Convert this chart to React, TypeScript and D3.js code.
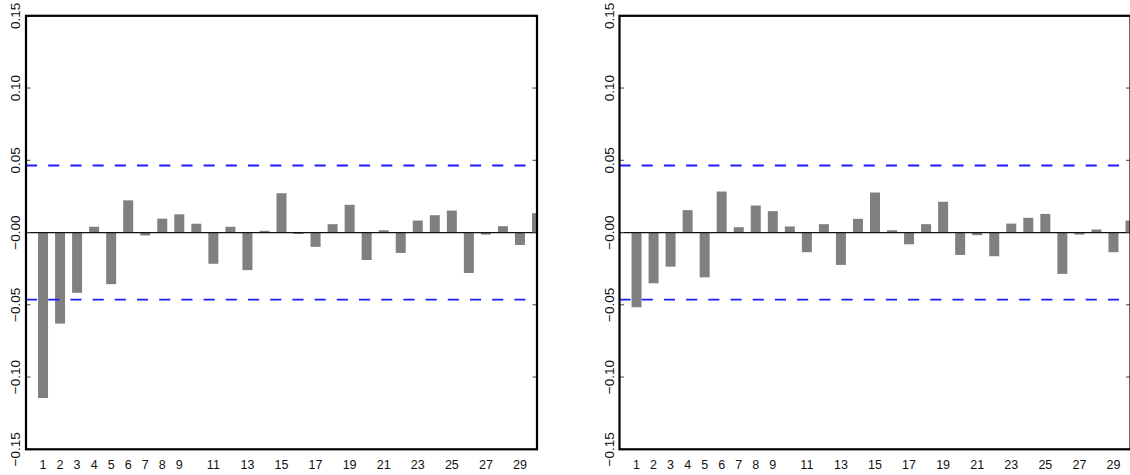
import * as d3 from "d3";

// Two ACF-style bar panels, lags 1..30, with ±critical dashed bands.

const LAGS = [1, 2, 3, 4, 5, 6, 7, 8, 9, 10, 11, 12, 13, 14, 15, 16, 17, 18, 19, 20, 21, 22, 23, 24, 25, 26, 27, 28, 29, 30];

const leftValues = [
  -0.1145, -0.063, -0.0417, 0.004, -0.0357, 0.0223, -0.002, 0.0096, 0.0126, 0.0061,
  -0.0216, 0.004, -0.026, 0.0012, 0.0272, -0.001, -0.0099, 0.0058, 0.0192, -0.019,
  0.0016, -0.0141, 0.0083, 0.012, 0.0152, -0.028, -0.0014, 0.0044, -0.0086, 0.0134,
];

const rightValues = [
  -0.0517, -0.0351, -0.0236, 0.0155, -0.031, 0.0284, 0.0037, 0.0187, 0.0148, 0.0042,
  -0.0136, 0.0058, -0.0224, 0.0095, 0.0277, 0.0016, -0.0081, 0.0058, 0.0213, -0.0155,
  -0.0018, -0.0164, 0.0062, 0.0102, 0.0129, -0.0286, -0.0014, 0.0021, -0.0136, 0.0083,
];

const CRIT = 0.0464;

const xTickLabels = [1, 2, 3, 4, 5, 6, 7, 8, 9, 11, 13, 15, 17, 19, 21, 23, 25, 27, 29];
const yTicks = [0.15, 0.1, 0.05, 0, -0.05, -0.1, -0.15];
const yTickLabels = ["0.15", "0.10", "0.05", "\u22120.00", "\u22120.05", "\u22120.10", "\u22120.15"];

const W = 1130;
const H = 475;
const TOP = 15.8;
const BOTTOM = 449.3;
const PANEL_W = 511;

function Panel({ id, left, values }: { id: string; left: number; values: number[] }) {
  const x = d3.scaleLinear().domain([0, 30]).range([left, left + PANEL_W]);
  const y = d3.scaleLinear().domain([-0.15, 0.15]).range([BOTTOM, TOP]);
  const barW = x(0.587) - x(0);
  const font = "'Liberation Sans', Arial, sans-serif";

  return (
    <g>
      <defs>
        <clipPath id={id}>
          <rect x={x(0)} y={TOP} width={PANEL_W} height={BOTTOM - TOP} />
        </clipPath>
      </defs>

      <g clipPath={`url(#${id})`}>
        {values.map((v, i) => (
          <rect
            key={i}
            x={x(LAGS[i]) - barW / 2}
            y={Math.min(y(v), y(0))}
            width={barW}
            height={Math.abs(y(v) - y(0))}
            fill="#808080"
          />
        ))}
        <line x1={x(0)} x2={x(30)} y1={y(0)} y2={y(0)} stroke="#111" strokeWidth={1.3} />
        {[CRIT, -CRIT].map((c) => (
          <line
            key={c}
            x1={x(0)}
            x2={x(30)}
            y1={y(c)}
            y2={y(c)}
            stroke="#1c1cff"
            strokeWidth={1.8}
            strokeDasharray="11.1 11.1"
          />
        ))}
      </g>

      {/* inward ticks on both vertical sides */}
      {yTicks.map((t) => (
        <g key={t}>
          <line x1={x(0)} x2={x(0) + 4.5} y1={y(t)} y2={y(t)} stroke="#444" strokeWidth={1} />
          <line x1={x(30) - 4.5} x2={x(30)} y1={y(t)} y2={y(t)} stroke="#444" strokeWidth={1} />
        </g>
      ))}

      <rect
        x={x(0)}
        y={TOP}
        width={PANEL_W}
        height={BOTTOM - TOP}
        fill="none"
        stroke="#000"
        strokeWidth={2.2}
      />

      {yTicks.map((t, i) => (
        <text
          key={t}
          transform={`translate(${x(0) - 6},${y(t)}) rotate(-90)`}
          textAnchor="middle"
          fontFamily={font}
          fontSize={13.5}
          fill="#111"
        >
          {yTickLabels[i]}
        </text>
      ))}

      {xTickLabels.map((l) => (
        <text
          key={l}
          x={x(l)}
          y={468.5}
          textAnchor="middle"
          fontFamily={font}
          fontSize={12.5}
          fill="#111"
        >
          {l}
        </text>
      ))}
    </g>
  );
}

export default function App() {
  return (
    <svg
      width={W}
      height={H}
      viewBox={`0 0 ${W} ${H}`}
      style={{ position: "absolute", left: 0, top: 0, background: "#fff" }}
    >
      <rect width={W} height={H} fill="#fff" />
      <Panel id="clipL" left={26} values={leftValues} />
      <Panel id="clipR" left={619.5} values={rightValues} />
    </svg>
  );
}
